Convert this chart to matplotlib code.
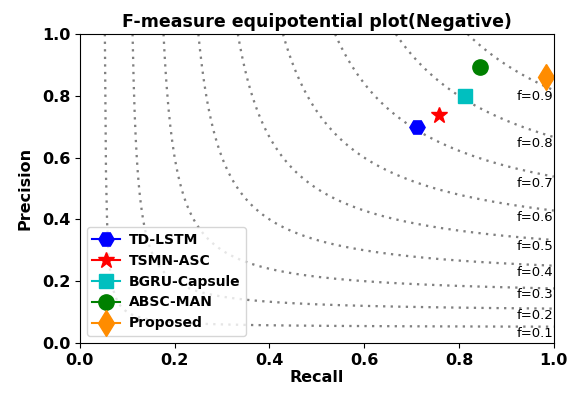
import matplotlib
matplotlib.use('Agg')
import matplotlib.pyplot as plt
import numpy as np

# iso F-measure levels
f_levels = [0.1, 0.2, 0.3, 0.4, 0.5, 0.6, 0.7, 0.8, 0.9]

# models (recall, precision)
models = ['TD-LSTM', 'TSMN-ASC', 'BGRU-Capsule', 'ABSC-MAN', 'Proposed']
recall = [0.712, 0.758, 0.813, 0.844, 0.983]
precision = [0.699, 0.739, 0.800, 0.892, 0.860]
markers = ['H', '*', 's', 'o', 'd']
colors = ['b', 'r', 'c', 'g', 'darkorange']
sizes = [11, 12, 10, 11, 13]

fig = plt.figure(figsize=(5.75, 3.96), dpi=100)
ax = fig.add_axes([0.139, 0.134, 0.824, 0.780])

for f in f_levels:
    x = np.linspace(f / (2 - f), 1, 400)
    y = f * x / (2 * x - f)
    ax.plot(x, y, color='gray', linestyle=(0, (1, 2.3)), linewidth=1.65)
    ax.text(0.922, f / (2 - f), 'f={0:0.1f}'.format(f), fontsize=9.5,
            ha='left', va='top')

for i in range(len(models)):
    ax.plot([recall[i]], [precision[i]], marker=markers[i], color=colors[i],
            markersize=sizes[i], label=models[i])

ax.set_xlim(0, 1)
ax.set_ylim(0, 1)
ax.set_xticks(np.arange(0, 1.01, 0.2))
ax.set_yticks(np.arange(0, 1.01, 0.2))
for lab in ax.get_xticklabels() + ax.get_yticklabels():
    lab.set_fontweight('bold')
    lab.set_fontsize(11.5)
ax.set_xlabel('Recall', fontsize=11.5, fontweight='bold', labelpad=2)
ax.set_ylabel('Precision', fontsize=11.5, fontweight='bold', labelpad=7)
ax.set_title('F-measure equipotential plot(Negative)', fontsize=12.5,
             fontweight='bold', pad=5)
ax.legend(loc='lower left', prop={'weight': 'bold', 'size': 10},
          borderaxespad=0.5, handletextpad=0.6, labelspacing=0.5)

plt.savefig('out.png', dpi=100)
